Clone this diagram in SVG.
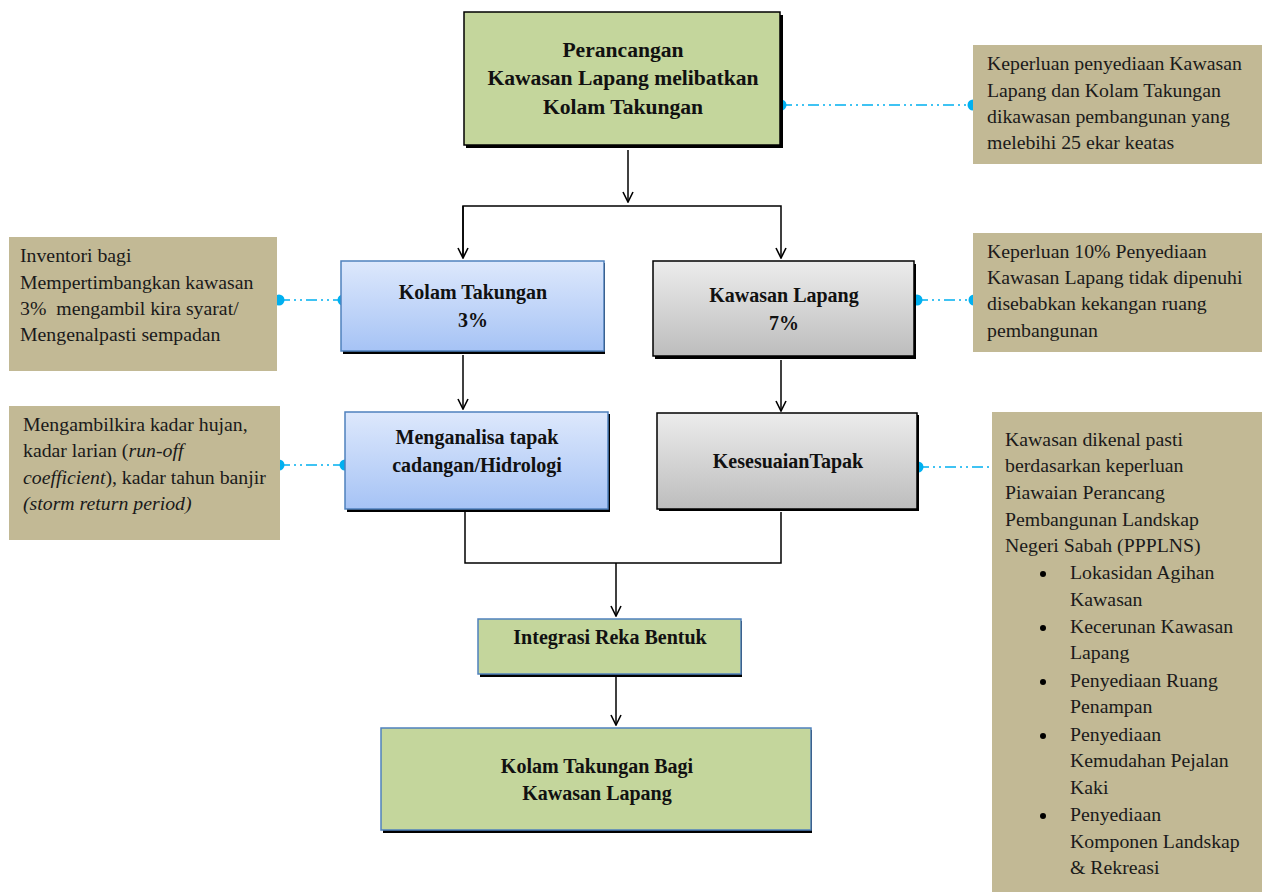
<svg xmlns="http://www.w3.org/2000/svg" width="1267" height="892" viewBox="0 0 1267 892">
<defs>
<linearGradient id="gBlue" x1="0" y1="0" x2="0" y2="1"><stop offset="0" stop-color="#dde8fc"/><stop offset="1" stop-color="#a6c3f5"/></linearGradient>
<linearGradient id="gGray" x1="0" y1="0" x2="0" y2="1"><stop offset="0" stop-color="#ececec"/><stop offset="1" stop-color="#bdbdbd"/></linearGradient>
<marker id="arr" viewBox="0 0 12 12" refX="11" refY="6" markerWidth="12" markerHeight="12" markerUnits="userSpaceOnUse" orient="auto"><path d="M1,1 L11,6 L1,11" fill="none" stroke="#000" stroke-width="1.6"/></marker>
<style>
.green{fill:#c4d69c;}
.note{fill:#c2b995;}
.shadow{fill:#000;}
.bt{font-family:"Liberation Serif",serif;font-weight:bold;font-size:20px;fill:#111;text-anchor:middle;}
.big{font-size:21.6px;}
.nt{font-family:"Liberation Serif",serif;font-size:19.8px;fill:#1a1a1a;}
.conn{stroke:#000;stroke-width:1.5;fill:none;}
.dd{stroke:#00b0f0;stroke-width:1.6;fill:none;stroke-dasharray:11 4 2 4 2 4;}
.dot{fill:#00b0f0;}
</style>
</defs>
<rect width="1267" height="892" fill="#fff"/>

<g id="connectors">
<line class="conn" x1="628" y1="150" x2="628" y2="202" marker-end="url(#arr)"/>
<polyline class="conn" points="463,258 463,206 781,206 781,258" marker-end="url(#arr)"/>
<line class="conn" x1="463" y1="206" x2="463" y2="258" marker-end="url(#arr)"/>
<line class="conn" x1="463" y1="355" x2="463" y2="409" marker-end="url(#arr)"/>
<line class="conn" x1="781" y1="360" x2="781" y2="411" marker-end="url(#arr)"/>
<polyline class="conn" points="465,512 465,563 781,563 781,512"/>
<line class="conn" x1="616" y1="563" x2="616" y2="616" marker-end="url(#arr)"/>
<line class="conn" x1="616" y1="677" x2="616" y2="725" marker-end="url(#arr)"/>
<line class="dd" x1="781" y1="105" x2="973" y2="105"/>
<circle class="dot" cx="781" cy="105" r="5.5"/><circle class="dot" cx="973" cy="105" r="5.5"/>
<line class="dd" x1="279" y1="300" x2="343" y2="300"/>
<circle class="dot" cx="279" cy="300" r="5.5"/><circle class="dot" cx="343" cy="300" r="5.5"/>
<line class="dd" x1="917" y1="300" x2="974" y2="300"/>
<circle class="dot" cx="917" cy="300" r="5.5"/><circle class="dot" cx="974" cy="300" r="5.5"/>
<line class="dd" x1="279" y1="465" x2="345" y2="465"/>
<circle class="dot" cx="279" cy="465" r="5.5"/><circle class="dot" cx="345" cy="465" r="5.5"/>
<line class="dd" x1="918" y1="467" x2="998" y2="467"/>
<circle class="dot" cx="918" cy="467" r="5.5"/><circle class="dot" cx="998" cy="467" r="5.5"/>
</g>

<g id="n-top">
<rect class="shadow" x="466" y="15" width="317" height="133"/>
<rect class="green" x="464" y="12" width="316" height="133" stroke="#000" stroke-width="1.5"/>
<text class="bt big" x="623" y="57">Perancangan</text>
<text class="bt big" x="623" y="85">Kawasan Lapang melibatkan</text>
<text class="bt big" x="623" y="114">Kolam Takungan</text>
</g>

<g id="n-note1">
<rect class="note" x="973" y="45" width="289" height="119"/>
<text class="nt" x="987" y="70">Keperluan penyediaan Kawasan</text>
<text class="nt" x="987" y="97">Lapang dan Kolam Takungan</text>
<text class="nt" x="987" y="123">dikawasan pembangunan yang</text>
<text class="nt" x="987" y="149">melebihi 25 ekar keatas</text>
</g>

<g id="n-kolam">
<rect class="shadow" x="343" y="263" width="262" height="91"/>
<rect x="341" y="261" width="263" height="90" fill="url(#gBlue)" stroke="#4f81bd" stroke-width="1.5"/>
<text class="bt" x="473" y="299">Kolam Takungan</text>
<text class="bt" x="473" y="327">3%</text>
</g>

<g id="n-kawasan">
<rect class="shadow" x="655" y="264" width="261" height="95"/>
<rect x="653" y="261" width="261" height="95" fill="url(#gGray)" stroke="#000" stroke-width="1.5"/>
<text class="bt" x="784" y="302">Kawasan Lapang</text>
<text class="bt" x="784" y="330">7%</text>
</g>

<g id="n-note2">
<rect class="note" x="9" y="237" width="268" height="134"/>
<text class="nt" x="20" y="262">Inventori bagi</text>
<text class="nt" x="20" y="289">Mempertimbangkan kawasan</text>
<text class="nt" x="20" y="315" xml:space="preserve">3%  mengambil kira syarat/</text>
<text class="nt" x="20" y="341">Mengenalpasti sempadan</text>
</g>

<g id="n-note3">
<rect class="note" x="973" y="233" width="289" height="119"/>
<text class="nt" x="987" y="258">Keperluan 10% Penyediaan</text>
<text class="nt" x="987" y="284">Kawasan Lapang tidak dipenuhi</text>
<text class="nt" x="987" y="310">disebabkan kekangan ruang</text>
<text class="nt" x="987" y="337">pembangunan</text>
</g>

<g id="n-menganalisa">
<rect class="shadow" x="347" y="414" width="263" height="98"/>
<rect x="345" y="412" width="263" height="97" fill="url(#gBlue)" stroke="#4f81bd" stroke-width="1.5"/>
<text class="bt" x="477" y="444">Menganalisa tapak</text>
<text class="bt" x="477" y="472">cadangan/Hidrologi</text>
</g>

<g id="n-kesesuaian">
<rect class="shadow" x="659" y="415" width="260" height="96"/>
<rect x="657" y="413" width="260" height="96" fill="url(#gGray)" stroke="#000" stroke-width="1.5"/>
<text class="bt" x="788" y="468">KesesuaianTapak</text>
</g>

<g id="n-note4">
<rect class="note" x="9" y="406" width="271" height="134"/>
<text class="nt" x="23" y="431">Mengambilkira kadar hujan,</text>
<text class="nt" x="23" y="457">kadar larian (<tspan font-style="italic">run-off</tspan></text>
<text class="nt" x="23" y="484"><tspan font-style="italic">coefficient</tspan>), kadar tahun banjir</text>
<text class="nt" x="23" y="510" font-style="italic">(storm return period)</text>
</g>

<g id="n-note5">
<rect class="note" x="992" y="412" width="270" height="480"/>
<text class="nt" x="1005" y="446">Kawasan dikenal pasti</text>
<text class="nt" x="1005" y="472">berdasarkan keperluan</text>
<text class="nt" x="1005" y="499">Piawaian Perancang</text>
<text class="nt" x="1005" y="526">Pembangunan Landskap</text>
<text class="nt" x="1005" y="552">Negeri Sabah (PPPLNS)</text>
<circle cx="1043" cy="574" r="3" fill="#000"/>
<text class="nt" x="1070" y="579">Lokasidan Agihan</text>
<text class="nt" x="1070" y="606">Kawasan</text>
<circle cx="1043" cy="628" r="3" fill="#000"/>
<text class="nt" x="1070" y="633">Kecerunan Kawasan</text>
<text class="nt" x="1070" y="659">Lapang</text>
<circle cx="1043" cy="682" r="3" fill="#000"/>
<text class="nt" x="1070" y="687">Penyediaan Ruang</text>
<text class="nt" x="1070" y="713">Penampan</text>
<circle cx="1043" cy="736" r="3" fill="#000"/>
<text class="nt" x="1070" y="741">Penyediaan</text>
<text class="nt" x="1070" y="767">Kemudahan Pejalan</text>
<text class="nt" x="1070" y="794">Kaki</text>
<circle cx="1043" cy="816" r="3" fill="#000"/>
<text class="nt" x="1070" y="821">Penyediaan</text>
<text class="nt" x="1070" y="848">Komponen Landskap</text>
<text class="nt" x="1070" y="874">&amp; Rekreasi</text>
</g>

<g id="n-integrasi">
<rect class="shadow" x="480" y="621" width="262" height="56"/>
<rect class="green" x="478" y="619" width="263" height="55" stroke="#4f81bd" stroke-width="1.5"/>
<text class="bt" x="610" y="644">Integrasi Reka Bentuk</text>
</g>

<g id="n-final">
<rect class="shadow" x="383" y="730" width="429" height="103"/>
<rect class="green" x="381" y="728" width="430" height="102" stroke="#4f81bd" stroke-width="1.5"/>
<text class="bt" x="597" y="773">Kolam Takungan Bagi</text>
<text class="bt" x="597" y="800">Kawasan Lapang</text>
</g>
</svg>
